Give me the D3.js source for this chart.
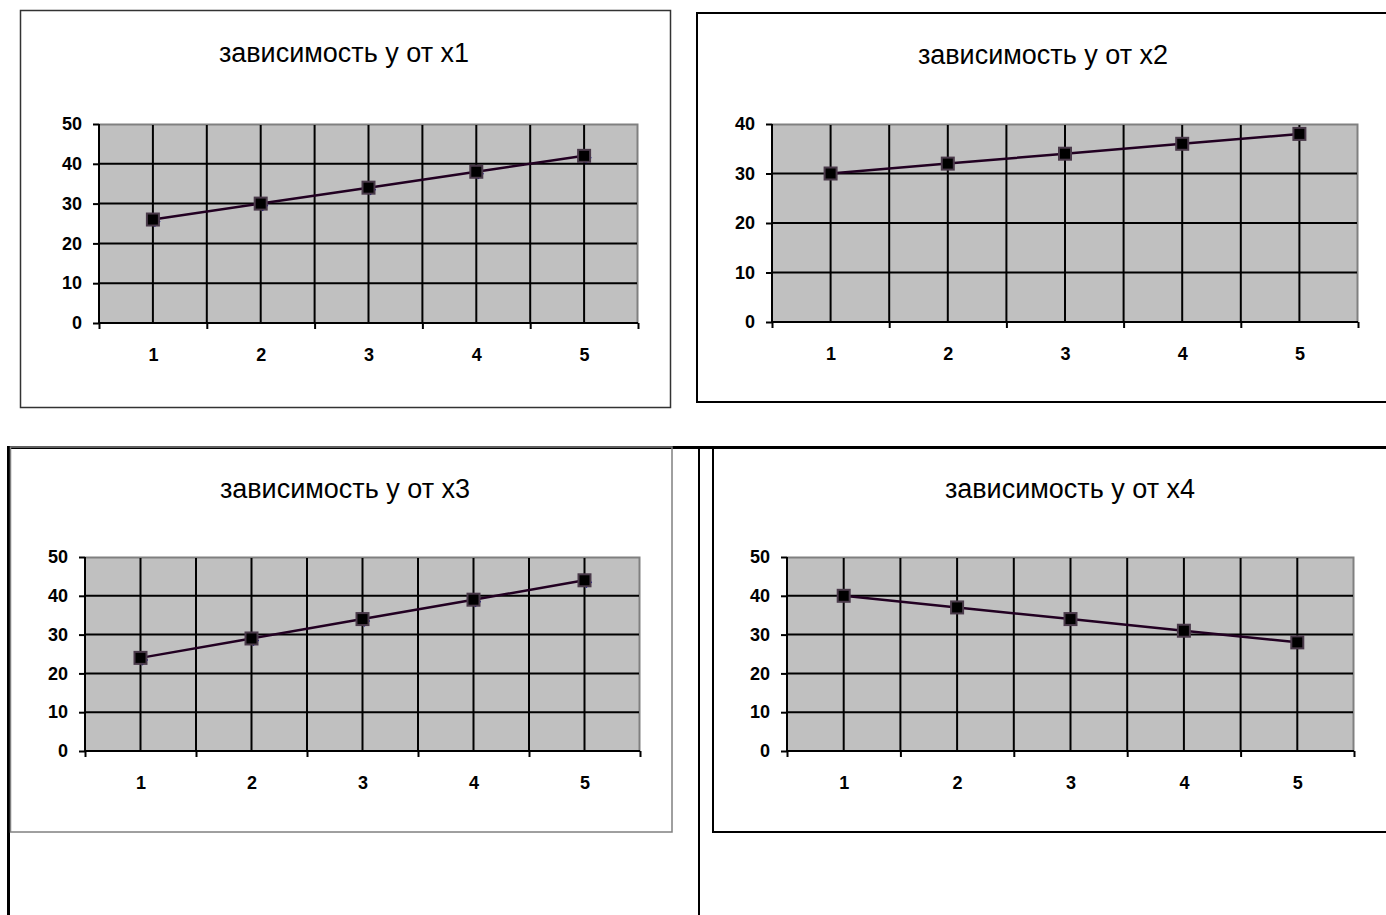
<!DOCTYPE html>
<html>
<head>
<meta charset="utf-8">
<script src="https://cdn.jsdelivr.net/npm/d3@7"></script>
<style>
  body { margin: 0; background: #fff; }
  text { font-family: "Liberation Sans", Arial, sans-serif; }
  .tick text { font-size: 18px; font-weight: bold; fill: #000; }
</style>
</head>
<body>
<script>
// data
var categories = [1, 2, 3, 4, 5];
var titles = ["зависимость у от х1", "зависимость у от х2", "зависимость у от х3", "зависимость у от х4"];
var yx1 = [26, 30, 34, 38, 42];
var yx2 = [30, 32, 34, 36, 38];
var yx3 = [24, 29, 34, 39, 44];
var yx4 = [40, 37, 34, 31, 28];
var ticks50 = [0, 10, 20, 30, 40, 50];
var ticks40 = [0, 10, 20, 30, 40];

// layout of the four panels
var panels = [
  {title: titles[0], values: yx1, ticks: ticks50, frame: [20.5, 10.5, 650, 397], frameColor: "#333", frameW: 1.5,
   plot: {left: 99, right: 638, top: 124, bottom: 323}, titleX: 344, titleY: 62, diamonds: true},
  {title: titles[1], values: yx2, ticks: ticks40, frame: [697, 13, 720, 389], frameColor: "#000", frameW: 2,
   plot: {left: 772, right: 1358, top: 124, bottom: 322}, titleX: 1043, titleY: 64, diamonds: false},
  {title: titles[2], values: yx3, ticks: ticks50, frame: [10.5, 447, 661.5, 385], frameColor: "#808080", frameW: 1.5,
   plot: {left: 85, right: 640, top: 557, bottom: 751}, titleX: 345, titleY: 498, diamonds: true},
  {title: titles[3], values: yx4, ticks: ticks50, frame: [713, 447, 720, 385], frameColor: "#000", frameW: 2,
   plot: {left: 787, right: 1354, top: 557, bottom: 751}, titleX: 1070, titleY: 498, diamonds: false}
];

var svg = d3.select("body").append("svg")
    .attr("width", 1386)
    .attr("height", 915);

// table lines round the bottom row
svg.append("line").attr("x1", 7).attr("x2", 1386).attr("y1", 447.5).attr("y2", 447.5)
  .attr("stroke", "#000").attr("stroke-width", 3);
svg.append("line").attr("x1", 8.5).attr("x2", 8.5).attr("y1", 446).attr("y2", 915)
  .attr("stroke", "#000").attr("stroke-width", 3);
svg.append("line").attr("x1", 699).attr("x2", 699).attr("y1", 446).attr("y2", 915)
  .attr("stroke", "#000").attr("stroke-width", 2);

panels.forEach(function(p) {
  var g = svg.append("g");
  var pl = p.plot;

  g.append("rect")
    .attr("x", p.frame[0]).attr("y", p.frame[1])
    .attr("width", p.frame[2]).attr("height", p.frame[3])
    .attr("fill", "none")
    .attr("stroke", p.frameColor)
    .attr("stroke-width", p.frameW);

  g.append("text")
    .attr("x", p.titleX).attr("y", p.titleY)
    .attr("text-anchor", "middle")
    .style("font-size", "27px")
    .text(p.title);

  var x = d3.scaleLinear().domain([0.5, 5.5]).range([pl.left, pl.right]);
  var y = d3.scaleLinear().domain([0, d3.max(p.ticks)]).range([pl.bottom, pl.top]);

  g.append("rect")
    .attr("x", pl.left).attr("y", pl.top)
    .attr("width", pl.right - pl.left).attr("height", pl.bottom - pl.top)
    .attr("fill", "#c0c0c0");

  // top and right border of the plot
  g.append("path")
    .attr("d", "M" + pl.left + "," + (pl.top + 0.5) + "H" + (pl.right - 0.5) + "V" + pl.bottom)
    .attr("fill", "none").attr("stroke", "#808080").attr("stroke-width", 2);

  // grid
  var hGrid = p.ticks.filter(function(t) { return t > 0 && t < d3.max(p.ticks); });
  g.selectAll(".hgrid").data(hGrid).enter().append("line")
    .attr("x1", pl.left).attr("x2", pl.right - 1)
    .attr("y1", function(d) { return y(d); }).attr("y2", function(d) { return y(d); })
    .attr("stroke", "#000").attr("stroke-width", 2);

  var vGrid = d3.range(1, 5.01, 0.5);
  g.selectAll(".vgrid").data(vGrid).enter().append("line")
    .attr("x1", function(d) { return x(d); }).attr("x2", function(d) { return x(d); })
    .attr("y1", pl.top + 1).attr("y2", pl.bottom)
    .attr("stroke", "#000").attr("stroke-width", 2);

  // axes
  var yAxis = g.append("g")
    .attr("transform", "translate(" + pl.left + ",0)")
    .call(d3.axisLeft(y).tickValues(p.ticks).tickSize(6).tickPadding(11).tickFormat(d3.format("d")));
  yAxis.selectAll("line, path").attr("stroke", "#000").attr("stroke-width", 2);
  yAxis.select(".domain").attr("d", "M0," + pl.top + "V" + pl.bottom);

  var xEdges = d3.range(0.5, 5.51, 1);
  var xAxis = g.append("g")
    .attr("transform", "translate(0," + pl.bottom + ")")
    .call(d3.axisBottom(x).tickValues(xEdges).tickSize(6).tickFormat(""));
  xAxis.selectAll("line, path").attr("stroke", "#000").attr("stroke-width", 2);
  xAxis.select(".domain").attr("d", "M" + pl.left + ",0H" + pl.right);

  var xLabels = g.append("g")
    .attr("transform", "translate(0," + pl.bottom + ")")
    .call(d3.axisBottom(x).tickValues(categories).tickSize(0).tickPadding(25).tickFormat(d3.format("d")));
  xLabels.select(".domain").remove();

  // series
  var line = d3.line()
    .x(function(d, i) { return x(categories[i]); })
    .y(function(d) { return y(d); });

  g.append("path")
    .datum(p.values)
    .attr("d", line)
    .attr("fill", "none")
    .attr("stroke", "#220022")
    .attr("stroke-width", 2.5);

  if (p.diamonds) {
    g.selectAll(".diamond").data(p.values).enter().append("path")
      .attr("d", d3.symbol().type(d3.symbolDiamond2).size(80))
      .attr("transform", function(d, i) { return "translate(" + (x(categories[i]) + 2) + "," + (y(d) + 2) + ")"; })
      .attr("fill", "#0000a0");
  }

  g.selectAll(".marker").data(p.values).enter().append("rect")
    .attr("x", function(d, i) { return x(categories[i]) - 6; })
    .attr("y", function(d) { return y(d) - 6; })
    .attr("width", 12).attr("height", 12)
    .attr("fill", "#000")
    .attr("stroke", "#4a3a4a")
    .attr("stroke-width", 2);
});
</script>
</body>
</html>
